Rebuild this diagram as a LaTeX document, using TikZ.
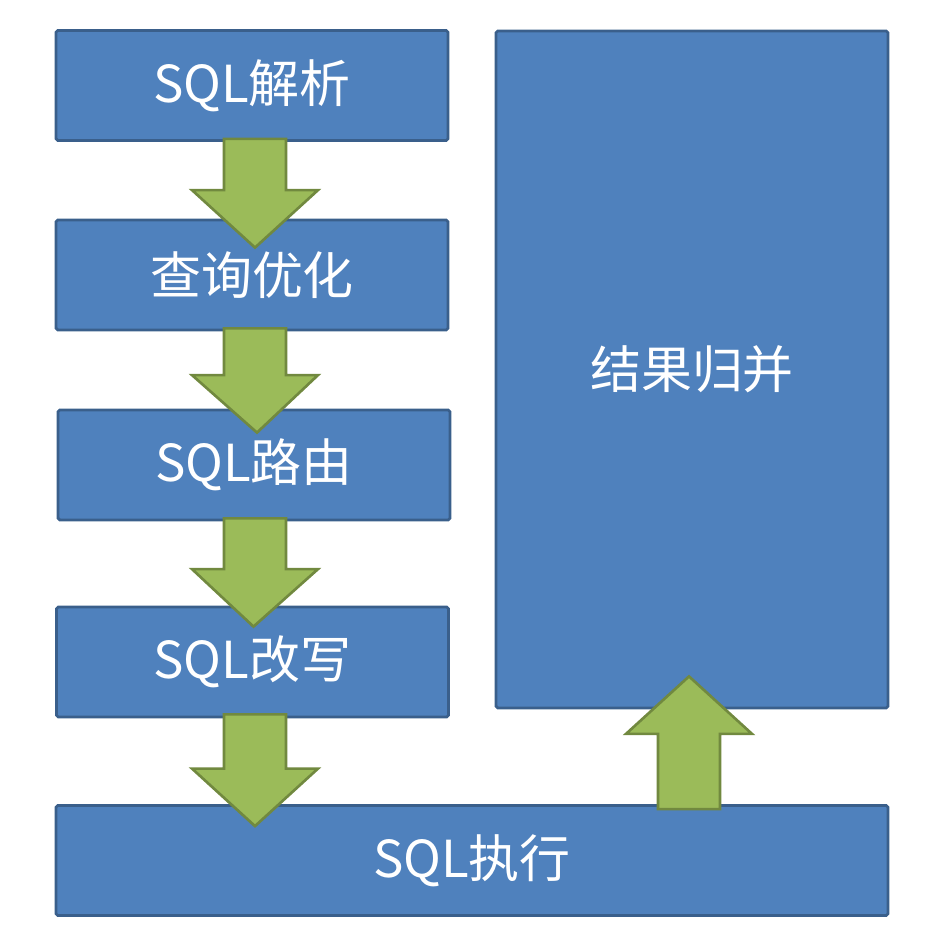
\documentclass[tikz,border=0pt]{standalone}
\usepackage{fontspec}
\newfontfamily\cjk{Noto Sans CJK SC}
\usetikzlibrary{calc}

\definecolor{boxfill}{HTML}{4F81BD}
\definecolor{boxline}{HTML}{3A5F8B}
\definecolor{arrowfill}{HTML}{9BBB59}
\definecolor{arrowline}{HTML}{71893F}

\tikzset{
  stage/.style={draw=boxline, fill=boxfill, line width=1.6pt, rounded corners=1pt,
    text=white, minimum width=7.84cm, minimum height=2.2cm, inner sep=0pt,
    font=\cjk\fontsize{29}{34}\selectfont},
  arrowbody/.style={draw=arrowline, fill=arrowfill, line width=1.5pt, line join=miter}
}

% block arrow from #1 to tip #2 (vertical)
\newcommand{\fatarrow}[2]{%
  \draw[arrowbody] let \p1=(#1), \p2=(#2), \p3=($(#2)!1.15cm!(#1)$) in
    (\x1-0.62cm,\y1) -- (\x1-0.62cm,\y3) -- (\x1-1.26cm,\y3) -- (\x2,\y2)
    -- (\x1+1.26cm,\y3) -- (\x1+0.62cm,\y3) -- (\x1+0.62cm,\y1) -- cycle;}

\begin{document}
\begin{tikzpicture}
  \useasboundingbox (0,0) rectangle (18.86,18.9);
  % left column
  \node[stage] (parse) at (5.04,17.19) {SQL解析};
  \node[stage] (optimize) at (5.04,13.40) {查询优化};
  \node[stage] (route) at (5.08,9.60) {SQL路由};
  \node[stage] (rewrite) at (5.05,5.66) {SQL改写};
  % bottom and right
  \node[stage, minimum width=16.64cm] (execute) at (9.44,1.69) {SQL执行};
  \node[stage, minimum height=13.54cm] (merge) at (13.84,11.51) {结果归并};
  % arrows
  \fatarrow{[shift={(0.06,0.06)}]parse.south}{[shift={(0.06,-0.58)}]optimize.north}
  \fatarrow{[shift={(0.06,0.06)}]optimize.south}{[shift={(0.06,-0.48)}]route.north}
  \fatarrow{[shift={(0.02,0.06)}]route.south}{[shift={(0.02,-0.42)}]rewrite.north}
  \fatarrow{[shift={(0.05,0.08)}]rewrite.south}{[shift={(0.05,-0.44)}]execute.north -| rewrite.south}
  \fatarrow{[shift={(-0.06,-0.1)}]execute.north -| merge.south}{[shift={(-0.06,0.66)}]merge.south}
\end{tikzpicture}
\end{document}
